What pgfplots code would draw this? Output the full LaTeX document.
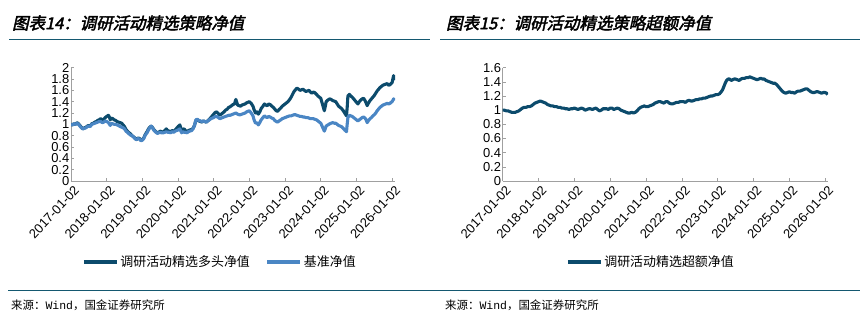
\documentclass[border=0pt]{standalone}
\usepackage{pgfplots}
\pgfplotsset{compat=1.18}
\usepackage{fontspec}
\setmainfont{Liberation Sans}
\setmonofont{Liberation Mono}
\newfontfamily\cjk{Noto Sans CJK SC}
\newfontfamily\cjktitle[FakeSlant=0.22,FakeBold=2.5]{Noto Sans CJK SC}
\definecolor{dk}{RGB}{12,75,108}
\definecolor{lt}{RGB}{74,134,196}
\definecolor{rulec}{RGB}{20,88,112}
\definecolor{axgray}{RGB}{160,160,160}

\pgfplotstableread{
x d l
2017.00 1.00 1.00
2017.04 0.99 0.99
2017.08 1.01 1.01
2017.12 1.00 1.00
2017.17 1.03 1.02
2017.21 1.01 1.00
2017.25 0.98 0.97
2017.29 0.95 0.94
2017.33 0.92 0.92
2017.38 0.94 0.93
2017.42 0.95 0.94
2017.46 0.97 0.96
2017.50 0.98 0.97
2017.54 0.97 0.96
2017.58 1.01 1.00
2017.63 1.02 1.01
2017.67 1.04 1.02
2017.71 1.05 1.03
2017.75 1.07 1.04
2017.79 1.08 1.05
2017.83 1.10 1.05
2017.88 1.08 1.03
2017.92 1.09 1.04
2017.96 1.12 1.06
2018.00 1.14 1.05
2018.05 1.16 1.03
2018.08 1.12 1.00
2018.10 1.08 0.98
2018.13 1.11 1.02
2018.17 1.10 1.01
2018.21 1.08 1.00
2018.25 1.07 1.00
2018.29 1.05 0.99
2018.33 1.04 0.98
2018.38 1.03 0.96
2018.42 1.02 0.95
2018.46 0.99 0.94
2018.50 0.96 0.92
2018.54 0.91 0.88
2018.58 0.88 0.86
2018.63 0.85 0.83
2018.67 0.83 0.81
2018.71 0.80 0.80
2018.75 0.78 0.78
2018.79 0.76 0.75
2018.83 0.73 0.73
2018.88 0.76 0.75
2018.92 0.75 0.74
2018.96 0.72 0.71
2019.00 0.73 0.72
2019.04 0.76 0.75
2019.08 0.82 0.81
2019.13 0.87 0.85
2019.17 0.92 0.90
2019.21 0.95 0.94
2019.25 0.97 0.97
2019.29 0.94 0.93
2019.33 0.90 0.89
2019.38 0.87 0.86
2019.42 0.85 0.84
2019.46 0.86 0.85
2019.50 0.88 0.86
2019.54 0.87 0.85
2019.58 0.86 0.85
2019.63 0.89 0.86
2019.67 0.92 0.87
2019.71 0.89 0.86
2019.75 0.88 0.86
2019.79 0.87 0.85
2019.83 0.89 0.87
2019.88 0.88 0.86
2019.92 0.90 0.88
2019.96 0.93 0.89
2020.00 0.96 0.90
2020.05 0.99 0.92
2020.08 0.93 0.88
2020.10 0.88 0.85
2020.13 0.91 0.87
2020.17 0.92 0.86
2020.21 0.89 0.86
2020.25 0.87 0.85
2020.29 0.89 0.87
2020.33 0.90 0.88
2020.38 0.91 0.89
2020.42 0.93 0.92
2020.46 0.98 0.98
2020.50 1.07 1.08
2020.54 1.08 1.09
2020.58 1.06 1.07
2020.63 1.05 1.06
2020.67 1.04 1.05
2020.71 1.06 1.06
2020.75 1.05 1.05
2020.79 1.04 1.04
2020.83 1.06 1.06
2020.88 1.09 1.08
2020.92 1.12 1.10
2020.96 1.15 1.11
2021.00 1.18 1.12
2021.04 1.21 1.14
2021.08 1.22 1.14
2021.13 1.19 1.12
2021.17 1.16 1.10
2021.21 1.18 1.11
2021.25 1.20 1.12
2021.29 1.22 1.13
2021.33 1.25 1.14
2021.38 1.27 1.15
2021.42 1.30 1.16
2021.46 1.31 1.16
2021.50 1.33 1.17
2021.54 1.35 1.18
2021.58 1.36 1.19
2021.62 1.44 1.20
2021.67 1.34 1.18
2021.71 1.33 1.17
2021.75 1.32 1.17
2021.79 1.34 1.18
2021.83 1.35 1.19
2021.88 1.36 1.20
2021.92 1.38 1.22
2021.96 1.39 1.23
2022.00 1.40 1.24
2022.05 1.37 1.20
2022.10 1.32 1.15
2022.13 1.26 1.08
2022.17 1.20 1.02
2022.21 1.22 1.03
2022.25 1.18 0.99
2022.29 1.22 1.03
2022.33 1.28 1.08
2022.38 1.32 1.12
2022.42 1.36 1.15
2022.46 1.34 1.13
2022.50 1.33 1.12
2022.54 1.36 1.14
2022.58 1.35 1.13
2022.63 1.32 1.11
2022.67 1.30 1.10
2022.71 1.27 1.07
2022.75 1.24 1.05
2022.79 1.23 1.04
2022.83 1.26 1.06
2022.88 1.29 1.08
2022.92 1.32 1.10
2022.96 1.34 1.11
2023.00 1.36 1.12
2023.04 1.38 1.13
2023.08 1.40 1.14
2023.13 1.44 1.15
2023.17 1.48 1.15
2023.21 1.53 1.16
2023.25 1.58 1.17
2023.29 1.61 1.17
2023.33 1.64 1.16
2023.38 1.62 1.15
2023.42 1.60 1.14
2023.46 1.61 1.14
2023.50 1.62 1.13
2023.54 1.60 1.13
2023.58 1.58 1.12
2023.63 1.59 1.12
2023.67 1.60 1.11
2023.71 1.57 1.10
2023.75 1.55 1.10
2023.79 1.57 1.10
2023.83 1.56 1.09
2023.88 1.53 1.08
2023.92 1.50 1.06
2023.96 1.48 1.04
2024.00 1.46 1.02
2024.05 1.35 0.95
2024.10 1.24 0.88
2024.13 1.33 0.93
2024.15 1.40 0.97
2024.20 1.43 0.99
2024.25 1.45 1.01
2024.29 1.44 1.02
2024.33 1.42 1.03
2024.38 1.41 1.02
2024.42 1.40 1.02
2024.46 1.36 1.00
2024.50 1.32 0.98
2024.54 1.30 0.97
2024.58 1.28 0.96
2024.63 1.24 0.93
2024.67 1.20 0.90
2024.72 1.15 0.87
2024.74 1.30 1.00
2024.76 1.50 1.12
2024.80 1.53 1.16
2024.84 1.50 1.15
2024.88 1.48 1.14
2024.92 1.45 1.12
2024.96 1.42 1.10
2025.00 1.39 1.08
2025.04 1.36 1.06
2025.08 1.40 1.08
2025.12 1.43 1.10
2025.16 1.45 1.12
2025.20 1.46 1.13
2025.24 1.42 1.11
2025.27 1.38 1.08
2025.30 1.33 1.03
2025.34 1.38 1.07
2025.38 1.42 1.10
2025.42 1.45 1.12
2025.46 1.48 1.15
2025.50 1.51 1.17
2025.54 1.55 1.20
2025.58 1.59 1.24
2025.62 1.62 1.27
2025.66 1.65 1.30
2025.70 1.67 1.32
2025.74 1.69 1.34
2025.78 1.70 1.35
2025.82 1.71 1.36
2025.86 1.72 1.37
2025.90 1.69 1.36
2025.94 1.70 1.37
2025.97 1.72 1.39
2026.00 1.74 1.40
2026.04 1.86 1.45
2026.07 1.78 1.42
}\tabA

\pgfplotstableread{
x e
2017.00 1.00
2017.05 1.00
2017.10 0.99
2017.15 0.99
2017.20 0.98
2017.25 0.97
2017.30 0.97
2017.35 0.97
2017.40 0.98
2017.45 0.99
2017.50 1.01
2017.55 1.03
2017.60 1.04
2017.65 1.04
2017.70 1.05
2017.75 1.05
2017.80 1.06
2017.85 1.08
2017.90 1.10
2017.95 1.11
2018.00 1.12
2018.05 1.13
2018.10 1.12
2018.15 1.11
2018.20 1.10
2018.25 1.08
2018.30 1.07
2018.35 1.06
2018.40 1.06
2018.45 1.05
2018.50 1.05
2018.55 1.04
2018.60 1.04
2018.65 1.03
2018.70 1.03
2018.75 1.02
2018.80 1.02
2018.85 1.01
2018.90 1.02
2018.95 1.02
2019.00 1.03
2019.05 1.02
2019.10 1.01
2019.15 1.02
2019.20 1.03
2019.25 1.02
2019.30 1.00
2019.35 1.01
2019.40 1.02
2019.45 1.02
2019.50 1.01
2019.55 1.02
2019.60 1.03
2019.65 1.01
2019.70 0.99
2019.75 1.00
2019.80 1.02
2019.85 1.02
2019.90 1.02
2019.95 1.01
2020.00 1.03
2020.05 1.03
2020.10 1.01
2020.15 1.02
2020.20 1.03
2020.25 1.02
2020.30 1.00
2020.35 0.99
2020.40 0.98
2020.45 0.97
2020.50 0.96
2020.55 0.96
2020.60 0.97
2020.65 0.96
2020.70 0.97
2020.75 0.99
2020.80 1.02
2020.85 1.04
2020.90 1.05
2020.95 1.06
2021.00 1.05
2021.05 1.05
2021.10 1.06
2021.15 1.07
2021.20 1.08
2021.25 1.10
2021.30 1.11
2021.35 1.12
2021.40 1.12
2021.45 1.11
2021.50 1.10
2021.55 1.12
2021.60 1.12
2021.65 1.10
2021.70 1.09
2021.75 1.09
2021.80 1.10
2021.85 1.11
2021.90 1.11
2021.95 1.12
2022.00 1.12
2022.05 1.12
2022.10 1.11
2022.15 1.13
2022.20 1.14
2022.25 1.13
2022.30 1.13
2022.35 1.14
2022.40 1.15
2022.45 1.15
2022.50 1.16
2022.55 1.16
2022.60 1.17
2022.65 1.17
2022.70 1.18
2022.75 1.19
2022.80 1.20
2022.85 1.20
2022.90 1.21
2022.95 1.22
2023.00 1.22
2023.05 1.23
2023.10 1.26
2023.14 1.29
2023.17 1.33
2023.21 1.38
2023.25 1.42
2023.29 1.44
2023.33 1.44
2023.38 1.42
2023.42 1.43
2023.46 1.44
2023.50 1.44
2023.55 1.43
2023.60 1.42
2023.65 1.44
2023.70 1.45
2023.75 1.45
2023.80 1.46
2023.85 1.46
2023.90 1.47
2023.95 1.46
2024.00 1.45
2024.05 1.44
2024.10 1.43
2024.15 1.44
2024.20 1.45
2024.25 1.44
2024.30 1.44
2024.35 1.42
2024.40 1.41
2024.45 1.40
2024.50 1.39
2024.55 1.38
2024.60 1.38
2024.65 1.36
2024.70 1.33
2024.75 1.30
2024.80 1.27
2024.85 1.25
2024.90 1.24
2024.95 1.25
2025.00 1.26
2025.05 1.25
2025.10 1.25
2025.15 1.24
2025.20 1.26
2025.25 1.27
2025.30 1.27
2025.35 1.28
2025.40 1.29
2025.45 1.30
2025.50 1.30
2025.55 1.28
2025.60 1.26
2025.65 1.25
2025.70 1.25
2025.75 1.26
2025.80 1.26
2025.85 1.25
2025.90 1.24
2025.95 1.25
2026.00 1.25
2026.04 1.24
2026.07 1.22
}\tabB

\pgfplotsset{
  mystyle/.style={
    scale only axis,
    anchor=south west,
    xmin=2017, xmax=2026.08,
    ymin=0,
    axis x line*=bottom, axis y line*=left,
    axis line style={-, draw=axgray, line width=0.8bp},
    tick style={draw=axgray, line width=0.6bp},
    tick align=inside,
    major tick length=3bp,
    xtick={2017,2018,2019,2020,2021,2022,2023,2024,2025,2026},
    xticklabels={2017-01-02,2018-01-02,2019-01-02,2020-01-02,2021-01-02,2022-01-02,2023-01-02,2024-01-02,2025-01-02,2026-01-02},
    xticklabel style={rotate=47, anchor=north east, inner sep=1bp, yshift=-3bp, font=\fontsize{13}{13}\selectfont},
    yticklabel style={inner sep=1.5bp, font=\fontsize{13}{13}\selectfont},
    /pgf/number format/assume math mode=true,
    legend style={draw=none, fill=none, font=\cjk\fontsize{13}{13}\selectfont,
      legend columns=-1, /tikz/every even column/.append style={column sep=14bp},
      inner sep=0pt},
    legend image code/.code={\draw[#1] (0bp,0bp) -- (33bp,0bp);},
    legend cell align=left,
  }
}

\begin{document}
\begin{tikzpicture}
\useasboundingbox (0,0) rectangle (865bp,325bp);
% titles
\node[anchor=west, inner sep=0] at (12bp,302bp) {\cjktitle\fontsize{16.5}{16.5}\selectfont 图表14：调研活动精选策略净值};
\node[anchor=west, inner sep=0] at (446bp,302bp) {\cjktitle\fontsize{16.5}{16.5}\selectfont 图表15：调研活动精选策略超额净值};
\draw[rulec, line width=1bp] (9bp,285bp) -- (430bp,285bp);
\draw[rulec, line width=1bp] (440bp,285bp) -- (860bp,285bp);
\draw[rulec, line width=1bp] (8bp,34bp) -- (860bp,34bp);
\node[anchor=west, inner sep=0] at (11bp,20bp) {\cjk\fontsize{11.5}{11.5}\selectfont 来源：{\ttfamily Wind}，国金证券研究所};
\node[anchor=west, inner sep=0] at (445bp,20bp) {\cjk\fontsize{11.5}{11.5}\selectfont 来源：{\ttfamily Wind}，国金证券研究所};

\begin{axis}[mystyle,
  at={(71bp,144bp)}, width=324bp, height=113.3bp,
  ymax=2, ytick={0,0.2,0.4,0.6,0.8,1,1.2,1.4,1.6,1.8,2},
  legend style={at={(0.46,-0.715)}, anchor=center},
]
\addplot[dk, line width=3.1bp, line join=round] table[x=x, y=d] {\tabA};
\addlegendentry{调研活动精选多头净值}
\addplot[lt, line width=3.1bp, line join=round] table[x=x, y=l] {\tabA};
\addlegendentry{基准净值}
\end{axis}

\begin{axis}[mystyle,
  at={(502.7bp,144bp)}, width=325.3bp, height=113.3bp,
  ymax=1.6, ytick={0,0.2,0.4,0.6,0.8,1,1.2,1.4,1.6},
  legend style={at={(0.456,-0.715)}, anchor=center},
]
\addplot[dk, line width=3.1bp, line join=round] table[x=x, y=e] {\tabB};
\addlegendentry{调研活动精选超额净值}
\end{axis}
\end{tikzpicture}
\end{document}
